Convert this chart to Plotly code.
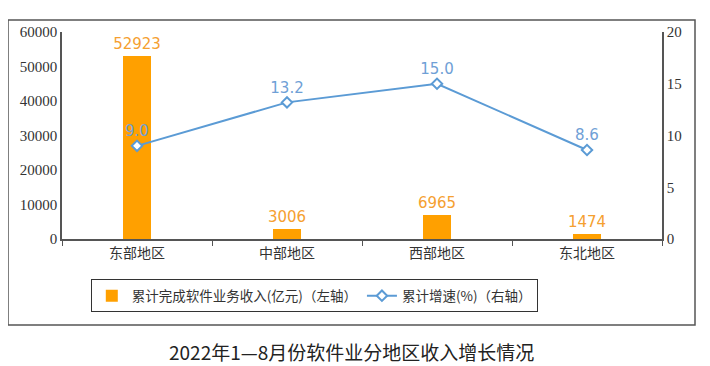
import plotly.graph_objects as go

categories = ["东部地区", "中部地区", "西部地区", "东北地区"]
revenue = [52923, 3006, 6965, 1474]
growth = [9.0, 13.2, 15.0, 8.6]
left_ticks = [0, 10000, 20000, 30000, 40000, 50000, 60000]
right_ticks = [0, 5, 10, 15, 20]

ORANGE = "#FFA000"
ORANGE_TXT = "#F5A030"
BLUE = "#5B9BD5"
BLUE_TXT = "#6FA0D6"
SERIF = "Liberation Serif, Times New Roman, DejaVu Serif, serif"
CJK = "Noto Sans CJK SC"
LABEL = "DejaVu Sans"

# page has an 8px body margin; the figure is shrunk so its plot area lands at the target spots
fig = go.Figure()
fig.add_trace(go.Bar(
    x=categories, y=revenue, name="累计完成软件业务收入(亿元)（左轴）",
    marker=dict(color=ORANGE, line=dict(width=0)), width=0.19,
    text=[str(v) for v in revenue], textposition="outside", constraintext="none",
    textfont=dict(color=ORANGE_TXT, size=15, family=LABEL),
    cliponaxis=False, yaxis="y",
))
fig.add_trace(go.Scatter(
    x=categories, y=growth, name="累计增速(%)（右轴）", mode="lines+markers+text",
    line=dict(color=BLUE, width=2),
    marker=dict(symbol="diamond", size=8, color="white", line=dict(color=BLUE, width=2)),
    text=[f"{v:.1f}" for v in growth], textposition="top center",
    textfont=dict(color=BLUE_TXT, size=15, family=LABEL),
    cliponaxis=False, yaxis="y2",
))

fig.update_layout(
    width=702, height=358,
    margin=dict(l=54, r=48, t=24, b=127, autoexpand=False),
    paper_bgcolor="white", plot_bgcolor="white",
    showlegend=True,
    legend=dict(orientation="h", x=0.048, y=-0.275, xanchor="left", yanchor="middle",
                bordercolor="#333333", borderwidth=1,
                font=dict(family=CJK, size=13.5, color="#333333"),
                itemwidth=30, traceorder="normal"),
    xaxis=dict(type="category", tickson="boundaries", ticks="outside", ticklen=5,
               tickcolor="#555555", showline=True, linecolor="#555555", linewidth=1.5,
               showgrid=False, tickfont=dict(family=CJK, size=14, color="#333333"),
               range=[-0.5, 3.5], automargin=False),
    yaxis=dict(range=[0, 60000], tickvals=left_ticks, ticktext=[str(v) for v in left_ticks],
               showgrid=False, zeroline=False,
               showline=True, linecolor="#555555", linewidth=1.5, ticks="",
               tickfont=dict(family=SERIF, size=15, color="#333333"), automargin=False),
    yaxis2=dict(range=[0, 20], tickvals=right_ticks, ticktext=[str(v) for v in right_ticks],
                overlaying="y", side="right",
                showgrid=False, zeroline=False, showline=True, linecolor="#555555",
                linewidth=1.5, ticks="", tickfont=dict(family=SERIF, size=15, color="#333333"),
                automargin=False),
    bargap=0,
)

fig.add_shape(type="rect", xref="paper", yref="paper",
              x0=-0.09, x1=1.055, y0=-0.415, y1=1.058,
              line=dict(color="#555555", width=1.5), fillcolor="rgba(0,0,0,0)")

fig.add_annotation(text="2022年1—8月份软件业分地区收入增长情况", xref="paper", yref="paper",
                   x=0.483, y=-0.545, showarrow=False, xanchor="center", yanchor="middle",
                   font=dict(family=CJK, size=19, color="#222222"))

fig.write_html("out.html")
